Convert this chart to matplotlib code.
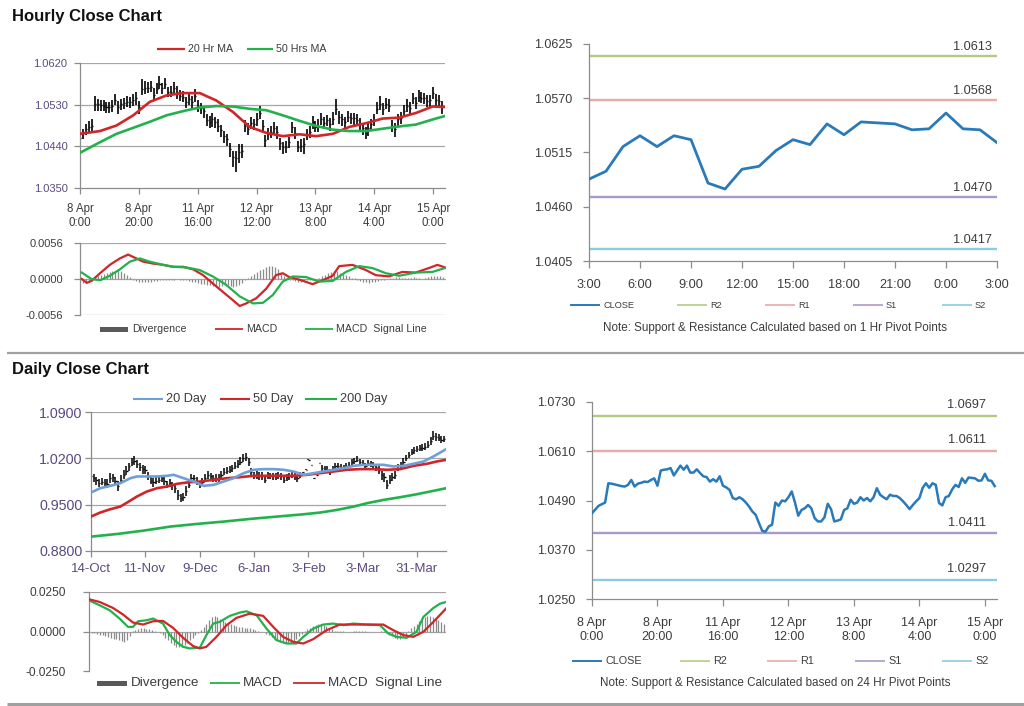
import matplotlib
matplotlib.use("Agg")
import matplotlib.pyplot as plt
import numpy as np
from matplotlib.lines import Line2D
from matplotlib.patches import Rectangle

plt.rcParams['font.family'] = ['Liberation Sans', 'DejaVu Sans']

# ---------------- DATA ----------------
# Hourly closes, 8 Apr 0:00 .. 15 Apr 3:00 (124 trading hours)
hourly_close = [
    1.0459, 1.0468, 1.0477, 1.0481, 1.0485, 1.0532, 1.0531, 1.0529, 1.0527, 1.0525,
    1.0524, 1.0528, 1.0540, 1.0524, 1.0531, 1.0533, 1.0536, 1.0535, 1.0540, 1.0544,
    1.0526, 1.0563, 1.0565, 1.0566, 1.0569, 1.0551, 1.0563, 1.0575, 1.0565, 1.0575,
    1.0558, 1.0558, 1.0566, 1.0557, 1.0549, 1.0547, 1.0536, 1.0542, 1.0536, 1.0549,
    1.0526, 1.0522, 1.0516, 1.0496, 1.0493, 1.0498, 1.0493, 1.0485, 1.0475, 1.0463,
    1.0455, 1.0435, 1.0416, 1.0414, 1.0427, 1.0431, 1.0485, 1.0477, 1.0490, 1.0488,
    1.0498, 1.0512, 1.0485, 1.0453, 1.0467, 1.0471, 1.0479, 1.0471, 1.0447, 1.0439,
    1.0439, 1.0449, 1.0482, 1.0469, 1.0439, 1.0441, 1.0444, 1.0467, 1.0471, 1.0492,
    1.0482, 1.0485, 1.0498, 1.0490, 1.0496, 1.0488, 1.0498, 1.0520, 1.0504, 1.0498,
    1.0493, 1.0504, 1.0501, 1.0501, 1.0496, 1.0488, 1.0479, 1.0469, 1.0479, 1.0488,
    1.0496, 1.0521, 1.0532, 1.0521, 1.0532, 1.0528, 1.0484, 1.0478, 1.0498, 1.0501,
    1.0517, 1.0528, 1.0523, 1.0544, 1.0533, 1.0546, 1.0545, 1.0544, 1.0538, 1.0539,
    1.0555, 1.0539, 1.0538, 1.0525]
# bar high / low distance from the close, in pips
hourly_hi_pips = [
    12, 10, 11, 13, 14, 16, 12, 11, 13, 10,
    12, 11, 14, 13, 12, 11, 13, 12, 14, 13,
    11, 22, 16, 13, 12, 14, 13, 16, 12, 13,
    11, 13, 12, 14, 13, 12, 11, 13, 12, 14,
    13, 12, 11, 13, 12, 14, 11, 13, 12, 11,
    12, 13, 14, 16, 18, 13, 12, 14, 13, 12,
    13, 16, 12, 11, 13, 12, 14, 13, 12, 11,
    13, 12, 11, 13, 12, 14, 13, 11, 12, 13,
    12, 13, 14, 13, 12, 14, 16, 22, 13, 12,
    11, 13, 12, 11, 13, 14, 12, 13, 11, 12,
    13, 14, 16, 13, 12, 14, 13, 12, 11, 13,
    12, 14, 13, 12, 14, 16, 13, 12, 13, 12,
    14, 13, 12, 13]
hourly_lo_pips = [
    14, 12, 13, 11, 12, 16, 14, 12, 11, 13,
    12, 13, 11, 14, 12, 13, 11, 12, 13, 14,
    16, 12, 13, 11, 12, 13, 11, 12, 13, 12,
    11, 12, 13, 14, 12, 11, 13, 12, 14, 13,
    12, 13, 14, 12, 13, 16, 14, 13, 15, 16,
    14, 18, 20, 29, 22, 16, 14, 13, 12, 13,
    14, 13, 16, 14, 13, 12, 13, 16, 14, 16,
    13, 12, 14, 13, 12, 14, 21, 13, 12, 14,
    12, 13, 11, 12, 13, 14, 12, 13, 16, 14,
    13, 12, 13, 14, 12, 13, 14, 13, 17, 12,
    13, 12, 13, 14, 12, 13, 14, 17, 16, 13,
    12, 13, 14, 12, 13, 11, 12, 13, 12, 13,
    12, 13, 14, 16]
hourly_tick_labels = ['8 Apr\n0:00', '8 Apr\n20:00', '11 Apr\n16:00', '12 Apr\n12:00',
                      '13 Apr\n8:00', '14 Apr\n4:00', '15 Apr\n0:00']

ma_hr_idx = [0, 6.8, 12.4, 18.1, 23.7, 29.4, 35.0, 40.7, 46.3, 52.0, 57.6, 63.3,
             68.9, 74.6, 80.2, 85.9, 91.5, 97.2, 102.8, 108.5, 114.1, 119.8, 123.7]
ma20_hr = [1.0467, 1.0473, 1.0485, 1.0507, 1.0536, 1.0550, 1.0555, 1.0555, 1.0539, 1.0514,
           1.0482, 1.0469, 1.0462, 1.0466, 1.0462, 1.0467, 1.0482, 1.0490, 1.0500, 1.0502,
           1.0512, 1.0526, 1.0525]
ma50_hr = [1.0426, 1.0449, 1.0467, 1.0480, 1.0493, 1.0507, 1.0516, 1.0524, 1.0527, 1.0526,
           1.0521, 1.0518, 1.0507, 1.0495, 1.0484, 1.0476, 1.0473, 1.0473, 1.0478, 1.0483,
           1.0487, 1.0498, 1.0505]

macd_hr_idx = [0.6, 2.3, 3.9, 6.8, 10.1, 13.5, 16.3, 19.1, 21.4, 24.8, 28.2, 31.5, 34.9,
               38.3, 41.7, 45.0, 48.4, 51.8, 54.1, 56.3, 59.7, 63.1, 66.4, 68.7, 70.9,
               74.3, 78.8, 82.2, 85.6, 87.8, 92.3, 96.8, 100.2, 104.7, 109.2, 113.7,
               118.2, 121.1, 123.6]
macd_hr = [0.0000, -0.0006, -0.0003, 0.0009, 0.0022, 0.0032, 0.0038, 0.0032, 0.0027, 0.0024,
           0.0022, 0.0019, 0.0019, 0.0015, 0.0006, -0.0007, -0.0020, -0.0033, -0.0042, -0.0038,
           -0.0030, -0.0015, 0.0006, 0.0009, 0.0003, -0.0001, -0.0008, -0.0002, 0.0005, 0.0020,
           0.0022, 0.0014, 0.0006, 0.0004, 0.0011, 0.0010, 0.0017, 0.0022, 0.0018]
signal_hr_idx = [0.6, 3.9, 6.8, 10.1, 13.5, 16.9, 20.3, 23.6, 28.2, 31.5, 36.0, 40.5, 45.0,
                 49.5, 54.1, 58.6, 62.0, 65.3, 68.7, 72.1, 76.6, 81.1, 85.6, 90.1, 94.6,
                 99.1, 103.6, 108.1, 113.7, 119.4, 123.6]
signal_hr = [0.0010, 0.0000, -0.0002, 0.0005, 0.0015, 0.0027, 0.0032, 0.0027, 0.0022, 0.0019,
             0.0018, 0.0014, 0.0004, -0.0009, -0.0027, -0.0038, -0.0037, -0.0025, -0.0004, 0.0004,
             0.0003, -0.0004, -0.0003, 0.0011, 0.0020, 0.0017, 0.0009, 0.0005, 0.0010, 0.0011,
             0.0017]
# divergence, in units of 0.0001
divergence_hr_e4 = [
    -4, -6, -5, -3, 0, 2,
    4, 6, 8, 10, 11, 12, 13, 14, 12, 10, 6, 3,
    -2, -3, -4, -5, -5, -4, -4, -3, -3, -2, -2, -1, -1, -1, -1, 0, -1, -1, -2, -3, -4, -5,
    -6, -7, -8, -9, -10, -11, -12, -12, -11, -10, -10, -11, -12, -11, -9, -6, -2,
    2, 5, 8, 11, 14, 16, 18, 20, 21, 19, 15, 10, 5, 1,
    -1, -2, -3, -4, -4, -3, -2, -2, -1, 0, 2, 4,
    6, 9, 11, 13, 12, 10, 8, 6, 4, 2, 1,
    -1, -3, -4, -5, -6, -5, -4, -3, -2, -1, 0,
    1, 2, 3, 3, 2, 1, 1, 2, 3, 2, 1, 0, 2, 3, 4, 5, 4, 4, 3]

# 1 hour pivot chart: last 25 hourly closes
pivot1h_tick_labels = ['3:00', '6:00', '9:00', '12:00', '15:00', '18:00', '21:00', '0:00', '3:00']
pivot1h_levels = [1.0613, 1.0568, 1.0470, 1.0417]   # R2, R1, S1, S2
pivot24h_levels = [1.0697, 1.0611, 1.0411, 1.0297]  # R2, R1, S1, S2
pivot_names = ['R2', 'R1', 'S1', 'S2']

# Daily closes 14-Oct .. 15-Apr (131 trading days)
daily_close = [
    0.9926, 0.9900, 0.9870, 0.9825, 0.9850, 0.9830, 0.9815, 0.9900, 0.9915, 0.9865,
    0.9780, 0.9880, 0.9950, 1.0010, 1.0077, 1.0150, 1.0160, 1.0110, 1.0067, 1.0040,
    1.0027, 0.9926, 0.9865, 0.9835, 0.9860, 0.9880, 0.9900, 0.9865, 0.9800, 0.9825,
    0.9790, 0.9750, 0.9650, 0.9600, 0.9620, 0.9700, 0.9800, 0.9900, 0.9900, 0.9850,
    0.9800, 0.9850, 0.9900, 0.9950, 0.9926, 0.9900, 0.9910, 0.9900, 0.9950, 1.0000,
    1.0010, 1.0027, 1.0052, 1.0087, 1.0110, 1.0150, 1.0200, 1.0220, 1.0150, 1.0000,
    0.9936, 0.9950, 0.9940, 0.9926, 0.9880, 0.9950, 0.9936, 0.9930, 0.9926, 0.9950,
    0.9926, 0.9880, 0.9915, 0.9930, 0.9950, 0.9926, 0.9900, 0.9950, 0.9990, 1.0027,
    1.0180, 1.0100, 0.9900, 0.9950, 1.0128, 1.0052, 1.0040, 1.0027, 1.0000, 1.0037,
    1.0077, 1.0087, 1.0070, 1.0052, 1.0087, 1.0100, 1.0150, 1.0160, 1.0180, 1.0150,
    1.0128, 1.0087, 1.0128, 1.0110, 1.0100, 1.0067, 1.0027, 0.9950, 0.9915, 0.9800,
    0.9880, 0.9920, 0.9950, 1.0052, 1.0100, 1.0150, 1.0200, 1.0250, 1.0290, 1.0320,
    1.0340, 1.0355, 1.0360, 1.0370, 1.0405, 1.0455, 1.0540, 1.0520, 1.0506, 1.0480,
    1.0490]
daily_hi_pips = [
    60, 70, 55, 65, 50, 60, 70, 80, 55, 60,
    75, 65, 70, 80, 60, 55, 70, 65, 60, 55,
    50, 60, 55, 65, 70, 60, 55, 50, 60, 65,
    55, 60, 70, 65, 60, 80, 70, 60, 55, 65,
    60, 55, 70, 60, 55, 50, 60, 65, 55, 50,
    55, 60, 50, 55, 60, 65, 70, 60, 55, 50,
    60, 55, 50, 60, 55, 50, 45, 55, 50, 45,
    50, 55, 45, 50, 55, 50, 45, 50, 5, 5,
    5, 5, 5, 5, 5, 40, 45, 50, 45, 40,
    45, 50, 40, 45, 50, 45, 40, 45, 50, 45,
    40, 45, 50, 45, 40, 45, 50, 60, 70, 80,
    70, 65, 60, 55, 50, 55, 50, 45, 50, 45,
    50, 45, 50, 55, 60, 70, 75, 65, 60, 55,
    50]
daily_lo_pips = [
    55, 60, 70, 55, 60, 65, 60, 70, 65, 55,
    70, 60, 55, 65, 70, 60, 55, 60, 65, 70,
    60, 55, 60, 65, 55, 60, 65, 70, 55, 60,
    65, 70, 75, 65, 60, 70, 55, 60, 65, 60,
    55, 60, 55, 60, 65, 55, 60, 55, 60, 55,
    50, 55, 60, 55, 50, 55, 60, 65, 70, 60,
    55, 60, 65, 55, 60, 55, 50, 55, 60, 55,
    50, 55, 50, 55, 50, 55, 50, 45, 5, 5,
    5, 5, 5, 5, 5, 45, 50, 45, 50, 45,
    40, 45, 50, 45, 40, 45, 50, 45, 40, 45,
    50, 45, 40, 45, 50, 55, 60, 70, 80, 70,
    65, 60, 55, 50, 55, 50, 45, 50, 45, 50,
    45, 50, 45, 50, 55, 60, 65, 55, 50, 45,
    50]
daily_tick_labels = ['14-Oct', '11-Nov', '9-Dec', '6-Jan', '3-Feb', '3-Mar', '31-Mar']

ma20_d_idx = [0, 3.4, 7.1, 10.8, 14.5, 16.9, 20.6, 24.3, 28.0, 30.4, 34.1, 37.8, 41.5,
              45.2, 48.8, 52.5, 56.2, 59.9, 63.6, 67.2, 70.9, 74.6, 78.3, 82.0, 85.6,
              89.3, 93.0, 96.7, 100.4, 104.0, 107.7, 111.4, 115.1, 118.8, 122.5, 126.1, 130.8]
ma20_d = [0.9683, 0.9749, 0.9784, 0.9825, 0.9900, 0.9926, 0.9926, 0.9926, 0.9936, 0.9951,
          0.9900, 0.9850, 0.9784, 0.9800, 0.9850, 0.9900, 0.9976, 1.0027, 1.0037, 1.0037,
          1.0027, 1.0001, 0.9951, 0.9976, 1.0001, 1.0027, 1.0052, 1.0087, 1.0102, 1.0102,
          1.0102, 1.0077, 1.0087, 1.0118, 1.0153, 1.0229, 1.0340]
ma50_d_idx = [0, 3.4, 7.1, 10.8, 13.9, 16.9, 20.6, 24.3, 28.0, 31.7, 35.3, 40.2, 45.2,
              50.1, 55.0, 59.9, 64.8, 69.7, 74.6, 79.5, 84.4, 89.3, 94.2, 99.1, 104.0,
              109.0, 113.9, 118.8, 123.7, 127.4, 130.8]
ma50_d = [0.9320, 0.9381, 0.9431, 0.9471, 0.9547, 0.9623, 0.9699, 0.9749, 0.9774, 0.9815,
          0.9835, 0.9850, 0.9875, 0.9900, 0.9916, 0.9936, 0.9936, 0.9936, 0.9936, 0.9951,
          0.9976, 1.0001, 1.0027, 1.0037, 1.0037, 1.0027, 1.0037, 1.0087, 1.0118, 1.0153,
          1.0178]
ma200_d_idx = [0, 9.6, 19.4, 29.2, 39.0, 48.8, 58.7, 68.5, 78.3, 84.4, 90.6, 96.7, 101.6,
               107.7, 113.9, 120.0, 126.1, 130.8]
ma200_d = [0.9017, 0.9057, 0.9108, 0.9169, 0.9209, 0.9244, 0.9285, 0.9320, 0.9355, 0.9381,
           0.9421, 0.9471, 0.9522, 0.9572, 0.9613, 0.9658, 0.9709, 0.9749]

macd_d_idx = [0, 3.9, 7.6, 11.2, 14.3, 16.1, 18.0, 21.0, 23.5, 27.1, 29.6, 32.0, 34.5,
              36.9, 40.6, 43.0, 45.5, 47.9, 51.6, 55.3, 57.7, 61.4, 65.0, 68.7, 72.4,
              76.0, 78.5, 82.2, 85.8, 89.5, 93.2, 96.8, 101.7, 106.6, 109.7, 112.7,
              116.4, 120.0, 122.5, 126.2, 128.6, 130.8]
macd_d = [0.0197, 0.0166, 0.0134, 0.0082, 0.0029, 0.0029, 0.0065, 0.0071, 0.0082, 0.0050,
          -0.0023, -0.0065, -0.0097, -0.0107, -0.0103, -0.0023, 0.0050, 0.0061, 0.0099, 0.0120,
          0.0128, 0.0103, 0.0019, -0.0055, -0.0076, -0.0076, -0.0034, 0.0019, 0.0044, 0.0050,
          0.0040, 0.0050, 0.0044, 0.0040, -0.0013, -0.0034, -0.0040, -0.0002, 0.0092, 0.0149,
          0.0176, 0.0187]
signal_d_idx = [0, 3.9, 8.8, 12.5, 16.1, 19.8, 23.5, 27.1, 30.8, 34.5, 38.1, 40.6, 43.0,
                46.7, 50.4, 54.0, 58.9, 63.8, 67.5, 71.1, 74.8, 78.5, 82.2, 87.0, 91.9,
                96.8, 101.7, 107.8, 111.5, 115.2, 118.8, 122.5, 126.2, 130.8]
signal_d = [0.0204, 0.0187, 0.0149, 0.0107, 0.0057, 0.0044, 0.0065, 0.0067, 0.0023, -0.0040,
            -0.0092, -0.0107, -0.0097, -0.0034, 0.0040, 0.0086, 0.0113, 0.0099, 0.0029, -0.0034,
            -0.0065, -0.0076, -0.0048, 0.0008, 0.0044, 0.0044, 0.0044, 0.0044, 0.0008, -0.0023,
            -0.0034, -0.0002, 0.0061, 0.0145]
divergence_d_e4 = [
    -5, -8,
    -10, -15, -20, -25, -30, -35, -40, -45, -50, -55, -60, -65, -55, -30,
    5, 10, 15, 20, 20, 15, 15, 10, 5, 0,
    -10, -25, -40, -55, -70, -85, -95, -100, -95, -85, -70, -55, -40, -25, -10,
    10, 30, 50, 70, 90, 95, 90, 80, 70, 60, 50, 45, 40, 35, 30,
    30, 25, 25, 20, 15, 10, 5, 0, -5,
    -15, -25, -35, -45, -55, -65, -70, -75, -75, -70, -60, -45, -30, -15,
    5, 15, 25, 35, 40, 45, 45, 40, 35, 25, 15, 5,
    3, 5, 3, 0, -3, -2, 2, 3, 5, 3, 2, 0, -2, -3, -2, 0, 2, 3,
    -10, -20, -30, -40, -45, -45, -35, -20,
    5, 20, 35, 50, 65, 80, 90, 100, 95, 90, 80, 70, 60, 45]

# ---------------- STYLE / LAYOUT ----------------
W, H = 1024, 706
fig = plt.figure(figsize=(W / 100, H / 100), dpi=100)
fig.patch.set_facecolor('white')

SPINE = '#8c8c8c'
GRID = '#a6a6a6'
PURPLE = '#5a4a80'
DARK = '#3c3c3c'
RED = '#d0262a'
GREEN = '#22b14c'
BLUE_CLOSE = '#2a7ab9'
BLUE20 = '#6f9fd6'
PIVOT_COLORS = ['#b2cc86', '#e8aaaa', '#aa9ac8', '#8ccbe0']


def px_axes(l, t, r, b):
    ax = fig.add_axes([l / W, 1 - b / H, (r - l) / W, (b - t) / H])
    for s in ['top', 'right']:
        ax.spines[s].set_visible(False)
    for s in ['left', 'bottom']:
        ax.spines[s].set_color(SPINE)
        ax.spines[s].set_linewidth(0.9)
    ax.set_facecolor('none')
    return ax


def fig_line(x0, x1, y, color, lw):
    fig.add_artist(Line2D([x0 / W, x1 / W], [1 - y / H, 1 - y / H], color=color, lw=lw,
                          transform=fig.transFigure, solid_capstyle='butt'))


def fig_text(x, y, s, **kw):
    fig.text(x / W, 1 - y / H, s, **kw)


def legend_line(x0, x1, y, color, label, fs, lw=1.3, tcolor=DARK):
    fig_line(x0, x1, y, color, lw)
    fig_text(x1 + 3, y, label, fontsize=fs, va='center', ha='left', color=tcolor)


def legend_patch(x0, x1, y, color, label, fs, h=5):
    fig.add_artist(Rectangle((x0 / W, 1 - (y + h / 2) / H), (x1 - x0) / W, h / H,
                             transform=fig.transFigure, color=color, lw=0))
    fig_text(x1 + 4, y, label, fontsize=fs, va='center', ha='left', color=DARK)


# Titles and separators
fig_text(12, 16, 'Hourly Close Chart', fontsize=12, fontweight='bold', va='center', color='#111111')
fig_text(12, 369.5, 'Daily Close Chart', fontsize=12, fontweight='bold', va='center', color='#111111')
fig_line(7, 1024, 353, '#a0a0a0', 1.6)
fig_line(7, 1024, 704, '#a0a0a0', 2.2)

# ---------- Hourly OHLC ----------
hidx = np.arange(len(hourly_close))
hc = np.array(hourly_close)
hhi = hc + np.array(hourly_hi_pips) * 1e-4
hlo = hc - np.array(hourly_lo_pips) * 1e-4

ax1 = px_axes(80, 63, 445, 188)
ax1.set_xlim(0, 124)
ax1.set_ylim(1.0350, 1.0620)
for y in [1.0620, 1.0530, 1.0440]:
    ax1.axhline(y, color=GRID, lw=0.9, zorder=0)
ax1.vlines(hidx, hlo, hhi, color='black', lw=1.2, zorder=2)
ax1.hlines(hc, hidx, hidx + 0.35, color='black', lw=1.0, zorder=2)
ax1.plot(ma_hr_idx, ma20_hr, color=RED, lw=1.9, zorder=3)
ax1.plot(ma_hr_idx, ma50_hr, color=GREEN, lw=1.9, zorder=3)
ax1.set_yticks([1.0350, 1.0440, 1.0530, 1.0620])
ax1.set_yticklabels(['1.0350', '1.0440', '1.0530', '1.0620'])
ax1.set_xticks(np.arange(0, 121, 20))
ax1.set_xticklabels(hourly_tick_labels)
ax1.tick_params(axis='y', length=4, width=0.9, color=SPINE, labelcolor=PURPLE, labelsize=8, pad=5)
ax1.tick_params(axis='x', length=4, width=0.9, color=SPINE, labelcolor=DARK, labelsize=8.3, pad=7)
legend_line(157, 185, 49, RED, '20 Hr MA', 7.7, lw=1.6)
legend_line(247, 273, 49, GREEN, '50 Hrs MA', 7.7, lw=1.6)

# ---------- Hourly MACD ----------
ax2 = px_axes(80, 243, 446, 315)
ax2.set_xlim(0, 124)
ax2.set_ylim(-0.0056, 0.0056)
for y in [0.0056, 0.0, -0.0056]:
    ax2.axhline(y, color=GRID, lw=0.9, zorder=0)
ax2.vlines(hidx, 0, np.array(divergence_hr_e4) * 1e-4, color='#8a8a8a', lw=0.9, zorder=1)
ax2.plot(macd_hr_idx, macd_hr, color=RED, lw=1.6, zorder=3)
ax2.plot(signal_hr_idx, signal_hr, color=GREEN, lw=1.6, zorder=3)
ax2.set_yticks([-0.0056, 0.0, 0.0056])
ax2.set_yticklabels(['-0.0056', '0.0000', '0.0056'])
ax2.set_xticks([])
ax2.spines['bottom'].set_visible(False)
ax2.tick_params(axis='y', length=4, width=0.9, color=SPINE, labelcolor=DARK, labelsize=8, pad=8)
legend_patch(100, 128, 329, '#595959', 'Divergence', 7.7)
legend_line(215, 243, 329, RED, 'MACD', 7.7, lw=1.3)
legend_line(305, 333, 329, GREEN, 'MACD  Signal Line', 7.7, lw=1.3)

# ---------- 1 Hr pivot chart ----------
ax3 = px_axes(589, 44, 997, 261)
p1 = hourly_close[-25:]
ax3.set_xlim(0, 24)
ax3.set_ylim(1.0405, 1.0625)
for lvl, col in zip(pivot1h_levels, PIVOT_COLORS):
    ax3.axhline(lvl, color=col, lw=1.7, zorder=1)
    ax3.annotate(f'{lvl:.4f}', (22.55, lvl), xytext=(0, 6.3), textcoords='offset points',
                 ha='center', va='center', fontsize=9.2, color=DARK)
ax3.plot(np.arange(25), p1, color=BLUE_CLOSE, lw=2.0, zorder=3)
ax3.set_yticks(np.round(np.arange(1.0405, 1.06251, 0.0055), 4))
ax3.set_yticklabels(['1.0405', '1.0460', '1.0515', '1.0570', '1.0625'])
ax3.set_xticks(np.arange(0, 25, 3))
ax3.set_xticklabels(pivot1h_tick_labels)
ax3.tick_params(axis='y', length=4, width=0.9, color=SPINE, labelcolor=DARK, labelsize=9, pad=8)
ax3.tick_params(axis='x', length=5, width=0.9, color=SPINE, labelcolor=DARK, labelsize=9.2, pad=8)
for (x0, x1), name, col in zip([(677, 707), (765, 795), (853, 883), (942, 972)], pivot_names, PIVOT_COLORS):
    legend_line(x0, x1, 305, col, name, 6.6, lw=1.2)
legend_line(570, 600, 305, BLUE_CLOSE, 'CLOSE', 6.6, lw=1.4)
fig_text(775, 328, 'Note: Support & Resistance Calculated based on 1 Hr Pivot Points',
         fontsize=8.4, ha='center', va='center', color=DARK)

# ---------- 24 Hr pivot chart ----------
ax6 = px_axes(592, 402, 997, 599)
ax6.set_xlim(0, 123.7)
ax6.set_ylim(1.0250, 1.0730)
for lvl, col in zip(pivot24h_levels, PIVOT_COLORS):
    ax6.axhline(lvl, color=col, lw=1.7, zorder=1)
    ax6.annotate(f'{lvl:.4f}', (114.5, lvl), xytext=(0, 7.5), textcoords='offset points',
                 ha='center', va='center', fontsize=9.2, color=DARK)
ax6.plot(hidx, hourly_close, color=BLUE_CLOSE, lw=1.8, zorder=3)
ax6.set_yticks([1.0250, 1.0370, 1.0490, 1.0610, 1.0730])
ax6.set_yticklabels(['1.0250', '1.0370', '1.0490', '1.0610', '1.0730'])
ax6.set_xticks(np.arange(0, 121, 20))
ax6.set_xticklabels(hourly_tick_labels)
ax6.tick_params(axis='y', length=4, width=0.9, color=SPINE, labelcolor=DARK, labelsize=9, pad=8)
ax6.tick_params(axis='x', length=5, width=0.9, color=SPINE, labelcolor=DARK, labelsize=9, pad=8)
for (x0, x1), name, col in zip([(680, 710), (767, 797), (855, 885), (942, 972)], pivot_names, PIVOT_COLORS):
    legend_line(x0, x1, 661, col, name, 7.8, lw=1.2)
legend_line(572, 602, 661, BLUE_CLOSE, 'CLOSE', 7.8, lw=1.4)
fig_text(775, 683, 'Note: Support & Resistance Calculated based on 24 Hr Pivot Points',
         fontsize=8.4, ha='center', va='center', color=DARK)

# ---------- Daily OHLC ----------
didx = np.arange(len(daily_close))
dc = np.array(daily_close)
dhi = dc + np.array(daily_hi_pips) * 1e-4
dlo = dc - np.array(daily_lo_pips) * 1e-4

ax4 = px_axes(91, 412, 446, 551)
ax4.set_xlim(0, 130.7)
ax4.set_ylim(0.8800, 1.0900)
for y in [1.0900, 1.0200, 0.9500]:
    ax4.axhline(y, color=GRID, lw=0.9, zorder=0)
ax4.vlines(didx, dlo, dhi, color='black', lw=1.1, zorder=2)
ax4.hlines(dc, didx, didx + 0.45, color='black', lw=1.0, zorder=2)
ax4.plot(ma200_d_idx, ma200_d, color=GREEN, lw=1.9, zorder=3)
ax4.plot(ma50_d_idx, ma50_d, color=RED, lw=1.9, zorder=3)
ax4.plot(ma20_d_idx, ma20_d, color=BLUE20, lw=1.9, zorder=3)
ax4.set_yticks([0.8800, 0.9500, 1.0200, 1.0900])
ax4.set_yticklabels(['0.8800', '0.9500', '1.0200', '1.0900'])
ax4.set_xticks(np.arange(0, 121, 20))
ax4.set_xticklabels(daily_tick_labels)
ax4.tick_params(axis='y', length=4, width=0.9, color=SPINE, labelcolor=PURPLE, labelsize=10.3, pad=2)
ax4.tick_params(axis='x', length=4, width=0.9, color=SPINE, labelcolor=PURPLE, labelsize=9.5, pad=5)
legend_line(133, 163, 399, BLUE20, '20 Day', 9.2, lw=1.5)
legend_line(220, 250, 399, RED, '50 Day', 9.2, lw=1.5)
legend_line(305, 337, 399, GREEN, '200 Day', 9.2, lw=1.5)

# ---------- Daily MACD ----------
ax5 = px_axes(89, 592, 446, 671)
ax5.set_xlim(0, 130.8)
ax5.set_ylim(-0.0250, 0.0250)
for y in [0.0250, 0.0]:
    ax5.axhline(y, color=GRID, lw=0.9, zorder=0)
ax5.vlines(didx, 0, np.array(divergence_d_e4) * 1e-4, color='#8a8a8a', lw=0.9, zorder=1)
ax5.plot(macd_d_idx, macd_d, color=GREEN, lw=1.6, zorder=3)
ax5.plot(signal_d_idx, signal_d, color=RED, lw=1.6, zorder=3)
ax5.set_yticks([-0.0250, 0.0, 0.0250])
ax5.set_yticklabels(['-0.0250', '0.0000', '0.0250'])
ax5.set_xticks([])
ax5.spines['bottom'].set_visible(False)
ax5.tick_params(axis='y', length=4, width=0.9, color=SPINE, labelcolor=DARK, labelsize=8.6, pad=13)
legend_patch(97, 127, 683, '#595959', 'Divergence', 9.7)
legend_line(210, 240, 683, GREEN, 'MACD', 9.7, lw=1.3)
legend_line(293, 325, 683, RED, 'MACD  Signal Line', 9.7, lw=1.3)

fig.savefig('out.png', dpi=100, facecolor='white')
